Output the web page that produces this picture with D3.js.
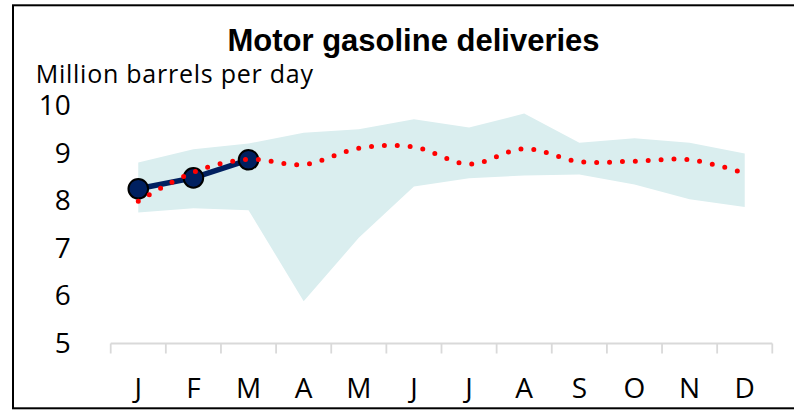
<!DOCTYPE html>
<html>
<head>
<meta charset="utf-8">
<script src="https://cdn.jsdelivr.net/npm/d3@7"></script>
<style>
  html, body { margin: 0; padding: 0; background: #fff; }
  svg { display: block; }
</style>
</head>
<body>
<svg id="chart" width="794" height="411"></svg>
<script>
const months = ["J","F","M","A","M","J","J","A","S","O","N","D"];
const monthKeys = ["Jan","Feb","Mar","Apr","May","Jun","Jul","Aug","Sep","Oct","Nov","Dec"];
const yTicks = [5, 6, 7, 8, 9, 10];
const rangeHigh = [8.80, 9.08, 9.20, 9.43, 9.50, 9.71, 9.54, 9.83, 9.22, 9.31, 9.22, 8.99];
const rangeLow  = [7.75, 7.84, 7.80, 5.89, 7.22, 8.30, 8.47, 8.53, 8.55, 8.34, 8.03, 7.87];
const average   = [7.99, 8.60, 8.87, 8.76, 9.10, 9.13, 8.77, 9.09, 8.82, 8.83, 8.86, 8.58];
const actual    = [8.25, 8.48, 8.86];

const svg = d3.select("#chart");
const FONT = "'Open Sans', 'Noto Sans', sans-serif";

const x = d3.scaleBand().domain(monthKeys).range([110.7, 772.3]).paddingInner(0).paddingOuter(0);
const cx = k => x(k) + x.bandwidth() / 2;
const y = d3.scaleLinear().domain([5, 10]).range([343.5, 105.5]);

// border
svg.append("rect")
  .attr("x", 13).attr("y", 5.3).attr("width", 800).attr("height", 403)
  .attr("fill", "#fff").attr("stroke", "#000").attr("stroke-width", 2);

// title
svg.append("text")
  .attr("x", 413.5).attr("y", 50.7)
  .attr("text-anchor", "middle")
  .attr("font-family", "'Liberation Sans', Arial, sans-serif")
  .attr("font-weight", "bold")
  .attr("font-size", 31)
  .attr("fill", "#000")
  .text("Motor gasoline deliveries");

// unit label
svg.append("text")
  .attr("x", 35.7).attr("y", 82.8)
  .attr("font-family", FONT)
  .attr("font-size", 25)
  .attr("letter-spacing", 0.75)
  .attr("fill", "#000")
  .text("Million barrels per day");

// band
const bandData = monthKeys.map((k, i) => ({k, hi: rangeHigh[i], lo: rangeLow[i]}));
svg.append("path")
  .datum(bandData)
  .attr("fill", "#daeeef")
  .attr("d", d3.area().x(d => cx(d.k)).y0(d => y(d.lo)).y1(d => y(d.hi)));

// x axis labels
const xAxis = d3.axisBottom(x).tickSize(0).tickPadding(0).tickFormat((d, i) => months[i]);
const gx = svg.append("g").attr("transform", `translate(0,${y(5)})`).call(xAxis);
gx.select(".domain").remove();
gx.selectAll("text")
  .attr("y", 54.8).attr("dy", null)
  .attr("font-family", FONT)
  .attr("font-size", 28)
  .attr("fill", "#000");
// axis line and boundary ticks
const edges = monthKeys.map(k => x(k)).concat([x.range()[1]]);
svg.append("line")
  .attr("x1", x.range()[0]).attr("x2", x.range()[1])
  .attr("y1", y(5)).attr("y2", y(5))
  .attr("stroke", "#d9d9d9").attr("stroke-width", 1.8);
svg.selectAll("line.xtick").data(edges).join("line")
  .attr("class", "xtick")
  .attr("x1", d => d).attr("x2", d => d)
  .attr("y1", y(5)).attr("y2", y(5) + 10)
  .attr("stroke", "#d9d9d9").attr("stroke-width", 1.8);

// y axis labels
const yAxis = d3.axisLeft(y).tickValues(yTicks).tickSize(0).tickPadding(0).tickFormat(d3.format("d"));
const gy = svg.append("g").attr("transform", "translate(70.7,0)").call(yAxis);
gy.select(".domain").remove();
gy.selectAll("text")
  .attr("font-family", FONT)
  .attr("font-size", 28)
  .attr("fill", "#000");

// actual line
const actData = actual.map((v, i) => ({k: monthKeys[i], v}));
svg.append("path")
  .datum(actData)
  .attr("fill", "none")
  .attr("stroke", "#002060")
  .attr("stroke-width", 5.5)
  .attr("d", d3.line().x(d => cx(d.k)).y(d => y(d.v)));
svg.selectAll("circle.act").data(actData).join("circle")
  .attr("class", "act")
  .attr("cx", d => cx(d.k)).attr("cy", d => y(d.v))
  .attr("r", 9.8)
  .attr("fill", "#002060")
  .attr("stroke", "#000").attr("stroke-width", 2);

// average dotted smooth line
const avgData = average.map((v, i) => ({k: monthKeys[i], v}));
svg.append("path")
  .datum(avgData)
  .attr("fill", "none")
  .attr("stroke", "#ff0000")
  .attr("stroke-width", 5)
  .attr("stroke-linecap", "round")
  .attr("stroke-dasharray", "0 12.9")
  .attr("d", d3.line().curve(d3.curveCardinal.tension(0)).x(d => cx(d.k)).y(d => y(d.v)));
</script>
</body>
</html>
